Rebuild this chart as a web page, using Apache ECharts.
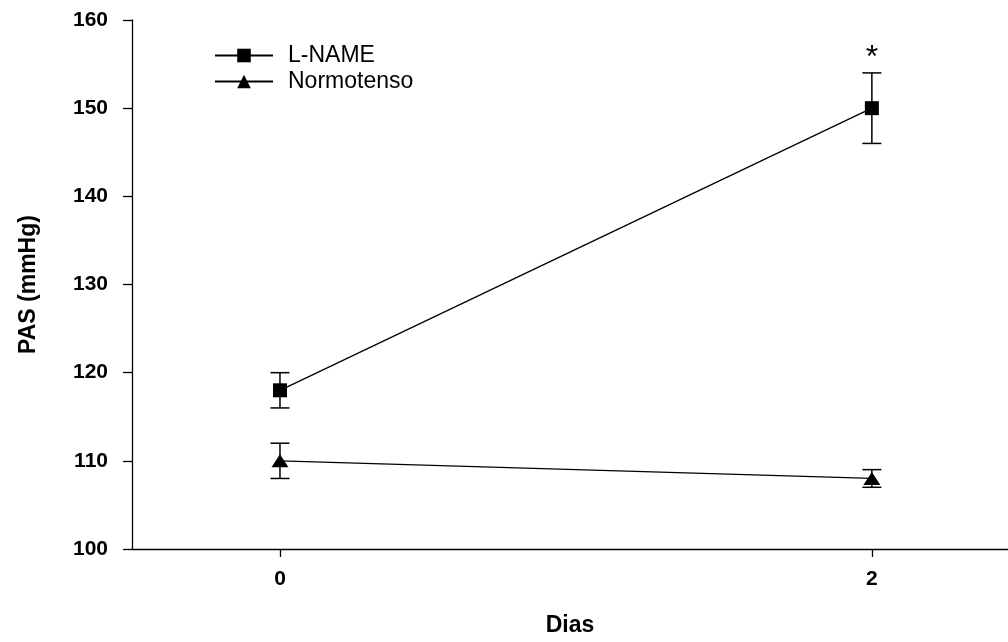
<!DOCTYPE html>
<html>
<head>
<meta charset="utf-8">
<script src="https://cdn.jsdelivr.net/npm/echarts@6/dist/echarts.min.js"></script>
<style>
  html, body { margin: 0; padding: 0; background: #fff; }
  #chart { width: 1008px; height: 642px; }
</style>
</head>
<body>
<div id="chart"></div>
<script>
// Systolic blood pressure (PAS) by day, mean ± error
const days = [0, 2];
const xTickValues = [0, 2];

const lnameMean = [118, 150];
const lnameErr = [2, 4];
const lnameMarks = ['', '*'];

const normoMean = [110, 108];
const normoErr = [2, 1];
const normoMarks = ['', ''];

const FONT = '"Liberation Sans", Arial, sans-serif';
const INK = '#000';

function errorSeries(name, means, errs, marks) {
  return {
    type: 'custom',
    name: name + ' err',
    z: 1,
    silent: true,
    data: days.map((d, i) => [d, means[i] - errs[i], means[i] + errs[i]]),
    renderItem: function (params, api) {
      const x = api.value(0);
      const lo = api.coord([x, api.value(1)]);
      const hi = api.coord([x, api.value(2)]);
      const hw = 9.5;
      const style = { stroke: INK, lineWidth: 1.5 };
      const children = [
        { type: 'line', shape: { x1: lo[0], y1: lo[1], x2: hi[0], y2: hi[1] }, style: style },
        { type: 'line', shape: { x1: lo[0] - hw, y1: lo[1], x2: lo[0] + hw, y2: lo[1] }, style: style },
        { type: 'line', shape: { x1: hi[0] - hw, y1: hi[1], x2: hi[0] + hw, y2: hi[1] }, style: style }
      ];
      const mark = marks[params.dataIndex];
      if (mark) {
        children.push({
          type: 'text',
          style: {
            text: mark, x: hi[0], y: hi[1] + 1,
            align: 'center', verticalAlign: 'bottom',
            font: '32px ' + FONT, fill: INK
          }
        });
      }
      return { type: 'group', children: children };
    }
  };
}

function meanSeries(name, means, symbol, size) {
  return {
    type: 'line',
    name: name,
    z: 3,
    data: days.map((d, i) => [d, means[i]]),
    symbol: symbol,
    symbolSize: size,
    showAllSymbol: true,
    lineStyle: { color: INK, width: 1.3 },
    itemStyle: { color: INK, borderColor: INK, borderWidth: 0 },
    emphasis: { disabled: true },
    animation: false
  };
}

const chart = echarts.init(document.getElementById('chart'), null, { renderer: 'canvas' });

chart.setOption({
  animation: false,
  backgroundColor: '#fff',
  grid: { left: 132, right: 0, top: 20, bottom: 89.5, containLabel: false },
  legend: {
    orient: 'vertical',
    left: 214,
    top: 44,
    padding: 0,
    itemWidth: 58,
    itemHeight: 17,
    itemGap: 3,
    data: ['L-NAME', 'Normotenso'],
    textStyle: { fontFamily: FONT, fontSize: 23, color: INK, padding: [0, 0, 0, 10] }
  },
  xAxis: {
    type: 'value',
    min: -0.5,
    max: 2.46,
    name: 'Dias',
    nameLocation: 'middle',
    nameGap: 65,
    nameTextStyle: { fontFamily: FONT, fontSize: 23, fontWeight: 'bold', color: INK },
    splitLine: { show: false },
    axisLine: { onZero: false, lineStyle: { color: INK, width: 1.3 } },
    axisTick: { show: true, length: 8, customValues: xTickValues, lineStyle: { color: INK, width: 1.3 } },
    axisLabel: { customValues: xTickValues, margin: 20, fontFamily: FONT, fontSize: 21, fontWeight: 'bold', color: INK }
  },
  yAxis: {
    type: 'value',
    min: 100,
    max: 160,
    interval: 10,
    name: 'PAS (mmHg)',
    nameLocation: 'middle',
    nameGap: 92,
    nameRotate: 90,
    nameTextStyle: { fontFamily: FONT, fontSize: 23, fontWeight: 'bold', color: INK },
    splitLine: { show: false },
    axisLine: { show: true, onZero: false, lineStyle: { color: INK, width: 1.3 } },
    axisTick: { show: true, length: 9, lineStyle: { color: INK, width: 1.3 } },
    axisLabel: { margin: 24, fontFamily: FONT, fontSize: 21, fontWeight: 'bold', color: INK }
  },
  series: [
    errorSeries('L-NAME', lnameMean, lnameErr, lnameMarks),
    errorSeries('Normotenso', normoMean, normoErr, normoMarks),
    meanSeries('L-NAME', lnameMean, 'rect', 14),
    meanSeries('Normotenso', normoMean, 'triangle', [17, 13])
  ]
});
</script>
</body>
</html>
